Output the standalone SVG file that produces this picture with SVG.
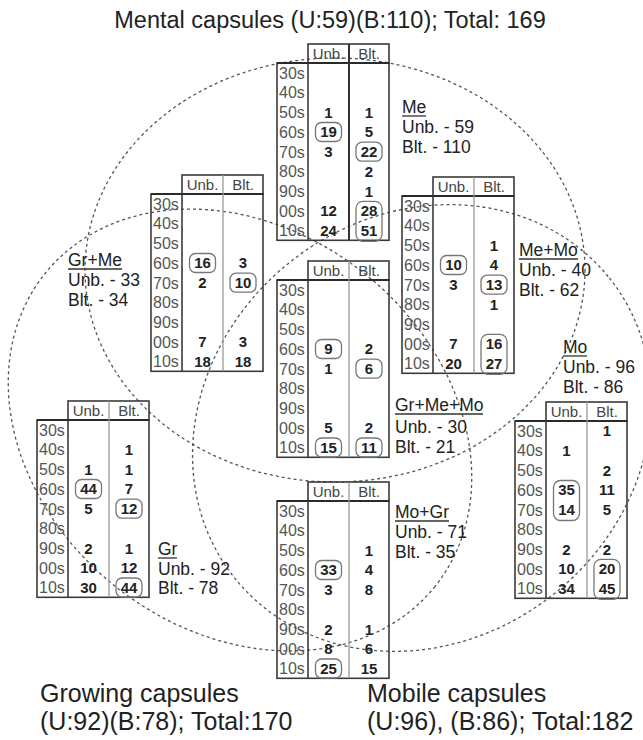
<svg xmlns="http://www.w3.org/2000/svg" xmlns:xlink="http://www.w3.org/1999/xlink" width="643" height="740" viewBox="0 0 643 740">
<style>
.frame{fill:none;stroke:#3a3a3a;stroke-width:1.6}
.hb{stroke:#2a2a2a;stroke-width:2.2}
.dv{stroke:#999;stroke-width:1.3}
.dvk{stroke:#333;stroke-width:2}
.hd{font-family:"Liberation Sans",Arial,sans-serif;font-size:15px;fill:#444;text-anchor:middle}
.dec{font-family:"Liberation Sans",Arial,sans-serif;font-size:16px;fill:#555}
.n{font-family:"Liberation Sans",Arial,sans-serif;font-size:15px;font-weight:bold;fill:#222;text-anchor:middle}
.box{fill:none;stroke:#777;stroke-width:1.3}
.lbl{font-family:"Liberation Sans",Arial,sans-serif;font-size:17.5px;fill:#222}
.ul{stroke:#333;stroke-width:1.3}
.venn{fill:none;stroke:#555;stroke-width:1.3;stroke-dasharray:3 3}
.big{font-family:"Liberation Sans",Arial,sans-serif;font-size:25px;fill:#222}
.title{font-family:"Liberation Sans",Arial,sans-serif;font-size:23.5px;fill:#222;text-anchor:middle}
</style>
<defs>
<g id="tbl">
<rect class="frame" x="31" y="0" width="81" height="19"/>
<rect class="frame" x="0" y="19" width="112" height="177.3"/>
<line class="hb" x1="0" y1="19" x2="112" y2="19"/>
<line class="frame" x1="31" y1="19" x2="31" y2="196.3"/>
<line class="dv" x1="72" y1="0" x2="72" y2="196.3"/>
<text class="hd" x="51.5" y="14.5">Unb.</text>
<text class="hd" x="92" y="14.5">Blt.</text>
<text class="dec" x="2" y="34.7">30s</text>
<text class="dec" x="2" y="54.4">40s</text>
<text class="dec" x="2" y="74.1">50s</text>
<text class="dec" x="2" y="93.8">60s</text>
<text class="dec" x="2" y="113.5">70s</text>
<text class="dec" x="2" y="133.2">80s</text>
<text class="dec" x="2" y="152.9">90s</text>
<text class="dec" x="2" y="172.6">00s</text>
<text class="dec" x="2" y="192.3">10s</text>
</g>
</defs>

<g id="circles">
<ellipse id="mental-set" class="venn" cx="335" cy="270" rx="250" ry="212"/>
<ellipse id="growing-set" class="venn" cx="240" cy="430" rx="250" ry="200" transform="rotate(38.7 240 430)"/>
<ellipse id="mobile-set" class="venn" cx="422" cy="428" rx="240" ry="212" transform="rotate(-38.7 422 428)"/>
</g>

<g id="connectors"></g>

<text class="title" x="330" y="28">Mental capsules (U:59)(B:110); Total: 169</text>

<g id="me" transform="translate(277,44)">
<use xlink:href="#tbl"/>
<line class="dvk" x1="72" y1="0" x2="72" y2="196.3"/>
<text class="n" x="51.5" y="73.7">1</text>
<text class="n" x="51.5" y="93.4">19</text>
<rect class="box" x="38.5" y="78.5" width="26" height="19" rx="6"/>
<text class="n" x="51.5" y="113.1">3</text>
<text class="n" x="51.5" y="172.2">12</text>
<text class="n" x="51.5" y="191.9">24</text>
<text class="n" x="92" y="73.7">1</text>
<text class="n" x="92" y="93.4">5</text>
<text class="n" x="92" y="113.1">22</text>
<rect class="box" x="79" y="98.2" width="26" height="19" rx="6"/>
<text class="n" x="92" y="132.8">2</text>
<text class="n" x="92" y="152.5">1</text>
<text class="n" x="92" y="172.2">28</text>
<text class="n" x="92" y="191.9">51</text>
<rect class="box" x="79" y="157.3" width="26" height="40" rx="7"/>
</g>
<g id="me-label">
<text class="lbl" x="402" y="113">Me</text>
<line class="ul" x1="402" y1="116" x2="426" y2="116"/>
<text class="lbl" x="402" y="133">Unb. - 59</text>
<text class="lbl" x="402" y="153">Blt. - 110</text>
</g>

<g id="grme" transform="translate(151,175)">
<use xlink:href="#tbl"/>
<text class="n" x="51.5" y="93.4">16</text>
<rect class="box" x="38.5" y="78.5" width="26" height="19" rx="6"/>
<text class="n" x="51.5" y="113.1">2</text>
<text class="n" x="51.5" y="172.2">7</text>
<text class="n" x="51.5" y="191.9">18</text>
<text class="n" x="92" y="93.4">3</text>
<text class="n" x="92" y="113.1">10</text>
<rect class="box" x="79" y="98.2" width="26" height="19" rx="6"/>
<text class="n" x="92" y="172.2">3</text>
<text class="n" x="92" y="191.9">18</text>
</g>
<g id="grme-label">
<text class="lbl" x="68" y="266">Gr+Me</text>
<line class="ul" x1="68" y1="269" x2="122" y2="269"/>
<text class="lbl" x="68" y="286">Unb. - 33</text>
<text class="lbl" x="68" y="306">Blt. - 34</text>
</g>

<g id="memo" transform="translate(402,177)">
<use xlink:href="#tbl"/>
<text class="n" x="51.5" y="93.4">10</text>
<rect class="box" x="38.5" y="78.5" width="26" height="19" rx="6"/>
<text class="n" x="51.5" y="113.1">3</text>
<text class="n" x="51.5" y="172.2">7</text>
<text class="n" x="51.5" y="191.9">20</text>
<text class="n" x="92" y="73.7">1</text>
<text class="n" x="92" y="93.4">4</text>
<text class="n" x="92" y="113.1">13</text>
<rect class="box" x="79" y="98.2" width="26" height="19" rx="6"/>
<text class="n" x="92" y="132.8">1</text>
<text class="n" x="92" y="172.2">16</text>
<text class="n" x="92" y="191.9">27</text>
<rect class="box" x="79" y="157.3" width="26" height="40" rx="7"/>
</g>
<g id="memo-label">
<text class="lbl" x="519" y="256">Me+Mo</text>
<line class="ul" x1="519" y1="259" x2="578" y2="259"/>
<text class="lbl" x="519" y="276">Unb. - 40</text>
<text class="lbl" x="519" y="296">Blt. - 62</text>
</g>

<g id="grmemo" transform="translate(277,261)">
<use xlink:href="#tbl"/>
<text class="n" x="51.5" y="93.4">9</text>
<rect class="box" x="38.5" y="78.5" width="26" height="19" rx="6"/>
<text class="n" x="51.5" y="113.1">1</text>
<text class="n" x="51.5" y="172.2">5</text>
<text class="n" x="51.5" y="191.9">15</text>
<rect class="box" x="38.5" y="177" width="26" height="19" rx="6"/>
<text class="n" x="92" y="93.4">2</text>
<text class="n" x="92" y="113.1">6</text>
<rect class="box" x="79" y="98.2" width="26" height="19" rx="6"/>
<text class="n" x="92" y="172.2">2</text>
<text class="n" x="92" y="191.9">11</text>
<rect class="box" x="79" y="177" width="26" height="19" rx="6"/>
</g>
<g id="grmemo-label">
<text class="lbl" x="395" y="411">Gr+Me+Mo</text>
<line class="ul" x1="395" y1="414" x2="483" y2="414"/>
<text class="lbl" x="395" y="433">Unb. - 30</text>
<text class="lbl" x="395" y="453">Blt. - 21</text>
</g>

<g id="gr" transform="translate(37,401)">
<use xlink:href="#tbl"/>
<text class="n" x="51.5" y="73.7">1</text>
<text class="n" x="51.5" y="93.4">44</text>
<rect class="box" x="38.5" y="78.5" width="26" height="19" rx="6"/>
<text class="n" x="51.5" y="113.1">5</text>
<text class="n" x="51.5" y="152.5">2</text>
<text class="n" x="51.5" y="172.2">10</text>
<text class="n" x="51.5" y="191.9">30</text>
<text class="n" x="92" y="54">1</text>
<text class="n" x="92" y="73.7">1</text>
<text class="n" x="92" y="93.4">7</text>
<text class="n" x="92" y="113.1">12</text>
<rect class="box" x="79" y="98.2" width="26" height="19" rx="6"/>
<text class="n" x="92" y="152.5">1</text>
<text class="n" x="92" y="172.2">12</text>
<text class="n" x="92" y="191.9">44</text>
<rect class="box" x="79" y="177" width="26" height="19" rx="6"/>
</g>
<g id="gr-label">
<text class="lbl" x="158" y="555">Gr</text>
<line class="ul" x1="158" y1="558" x2="177" y2="558"/>
<text class="lbl" x="158" y="575">Unb. - 92</text>
<text class="lbl" x="158" y="594">Blt. - 78</text>
</g>

<g id="mo" transform="translate(515,402)">
<use xlink:href="#tbl"/>
<text class="n" x="51.5" y="54">1</text>
<text class="n" x="51.5" y="93.4">35</text>
<text class="n" x="51.5" y="113.1">14</text>
<rect class="box" x="38.5" y="78.5" width="26" height="40" rx="7"/>
<text class="n" x="51.5" y="152.5">2</text>
<text class="n" x="51.5" y="172.2">10</text>
<text class="n" x="51.5" y="191.9">34</text>
<text class="n" x="92" y="34.3">1</text>
<text class="n" x="92" y="73.7">2</text>
<text class="n" x="92" y="93.4">11</text>
<text class="n" x="92" y="113.1">5</text>
<text class="n" x="92" y="152.5">2</text>
<text class="n" x="92" y="172.2">20</text>
<text class="n" x="92" y="191.9">45</text>
<rect class="box" x="79" y="157.3" width="26" height="40" rx="7"/>
</g>
<g id="mo-label">
<text class="lbl" x="563" y="353">Mo</text>
<line class="ul" x1="563" y1="356" x2="587" y2="356"/>
<text class="lbl" x="563" y="373">Unb. - 96</text>
<text class="lbl" x="563" y="393">Blt. - 86</text>
</g>

<g id="mogr" transform="translate(277,482)">
<use xlink:href="#tbl"/>
<text class="n" x="51.5" y="93.4">33</text>
<rect class="box" x="38.5" y="78.5" width="26" height="19" rx="6"/>
<text class="n" x="51.5" y="113.1">3</text>
<text class="n" x="51.5" y="152.5">2</text>
<text class="n" x="51.5" y="172.2">8</text>
<text class="n" x="51.5" y="191.9">25</text>
<rect class="box" x="38.5" y="177" width="26" height="19" rx="6"/>
<text class="n" x="92" y="73.7">1</text>
<text class="n" x="92" y="93.4">4</text>
<text class="n" x="92" y="113.1">8</text>
<text class="n" x="92" y="152.5">1</text>
<text class="n" x="92" y="172.2">6</text>
<text class="n" x="92" y="191.9">15</text>
</g>
<g id="mogr-label">
<text class="lbl" x="395" y="518">Mo+Gr</text>
<line class="ul" x1="395" y1="521" x2="449" y2="521"/>
<text class="lbl" x="395" y="538">Unb. - 71</text>
<text class="lbl" x="395" y="558">Blt. - 35</text>
</g>

<g id="growing-caption">
<text class="big" x="40" y="702">Growing capsules</text>
<text class="big" x="40" y="730">(U:92)(B:78); Total:170</text>
</g>
<g id="mobile-caption">
<text class="big" x="367" y="702">Mobile capsules</text>
<text class="big" x="367" y="730">(U:96), (B:86); Total:182</text>
</g>
</svg>
